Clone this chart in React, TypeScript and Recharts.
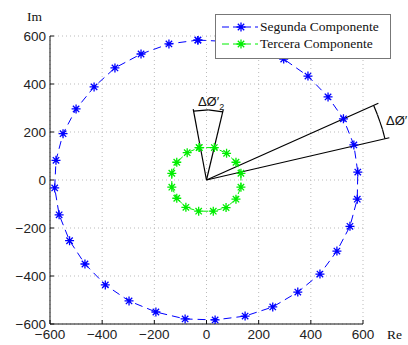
import React from 'react';
import { ScatterChart, Scatter, XAxis, YAxis, CartesianGrid, Legend, ReferenceLine, ReferenceDot } from 'recharts';

const ticks = [-600, -400, -200, 0, 200, 400, 600];

// segunda componente (blue)
const segundaRe = [-33, 82, 193, 296, 389, 466, 525, 565, 580, 578, 550, 500, 435, 350, 254, 148, 33, -82, -194, -297, -388, -466, -525, -565, -582, -577, -550, -500, -431, -351, -251, -144];
const segundaIm = [583, 577, 550, 504, 433, 346, 255, 146, 33, -80, -193, -296, -392, -467, -529, -567, -583, -579, -550, -504, -437, -350, -253, -145, -33, 82, 193, 296, 388, 467, 525, 567];

// tercera componente (green)
const terceraRe = [-28, 30, 77, 113, 132, 132, 113, 75, 26, -30, -79, -114, -133, -133, -114, -74];
const terceraIm = [135, 135, 111, 74, 28, -30, -80, -115, -130, -130, -114, -76, -30, 28, 74, 114];

// annotation wedges: ray end points and arc points
const rays = [
  { x: -51, y: 295 },
  { x: 64, y: 292 },
  { x: 659, y: 320 },
  { x: 701, y: 176 },
];
const arcTop = [{ x: 63, y: 284 }, { x: 7, y: 292 }, { x: -49, y: 287 }];
const arcRight = [{ x: 684, y: 172 }, { x: 675, y: 210 }, { x: 665, y: 242 }, { x: 655, y: 273 }, { x: 641, y: 310 }];

const blueData = [...segundaRe, segundaRe[0]].map((x, i) => ({ x, y: [...segundaIm, segundaIm[0]][i] }));
const greenData = [...terceraRe, terceraRe[0]].map((x, i) => ({ x, y: [...terceraIm, terceraIm[0]][i] }));

const BLUE = '#0000ff';
const GREEN = '#00ee00';

const asterisk = (color: string) => (props: any) => {
  const { cx, cy } = props;
  const r = 4.5;
  const d = 3.2;
  return (
    <path
      d={`M${cx - r},${cy}H${cx + r}M${cx},${cy - r}V${cy + r}M${cx - d},${cy - d}L${cx + d},${cy + d}M${cx - d},${cy + d}L${cx + d},${cy - d}`}
      stroke={color}
      strokeWidth={1.3}
      fill="none"
    />
  );
};

const fmt = (v: number) => (v < 0 ? `\u2212${-v}` : `${v}`);

const LegendBox = () => {
  const row = (color: string, label: string) => (
    <div style={{ display: 'flex', alignItems: 'center', height: 17 }}>
      <svg width={40} height={12} style={{ marginLeft: 4 }}>
        <line x1={2} y1={6} x2={38} y2={6} stroke={color} strokeDasharray="7 4" strokeWidth={1} />
        {asterisk(color)({ cx: 21, cy: 6 })}
      </svg>
      <span>{label}</span>
    </div>
  );
  return (
    <div
      style={{
        border: '1px solid #777',
        background: '#fff',
        width: 174,
        height: 40,
        boxSizing: 'content-box',
        fontFamily: '"Liberation Serif", "Times New Roman", serif',
        fontSize: 13.5,
        color: '#111',
        paddingTop: 3,
        lineHeight: '17px',
      }}
    >
      {row(BLUE, 'Segunda Componente')}
      {row(GREEN, 'Tercera Componente')}
    </div>
  );
};

const seg = (pts: { x: number; y: number }[]) =>
  pts.slice(1).map((p, i) => [pts[i], p] as [{ x: number; y: number }, { x: number; y: number }]);

export default function App() {
  const axisFont = { fontFamily: '"Liberation Sans", Arial, sans-serif', fontSize: 13.5, fill: '#222' };
  return (
    <div style={{ position: 'absolute', left: 0, top: 0, width: 408, height: 345, background: '#fff' }}>
      <ScatterChart width={408} height={345} margin={{ top: 36, right: 45, bottom: 0, left: 0 }}>
        <CartesianGrid stroke="#bbb" strokeDasharray="1 3" />
        <XAxis
          dataKey="x"
          type="number"
          domain={[-600, 600]}
          ticks={ticks}
          allowDataOverflow
          height={21}
          tickSize={-4}
          tickMargin={9}
          tickFormatter={fmt}
          tick={axisFont}
          stroke="#111"
          label={{
            content: (p: any) => (
              <text x={p.viewBox.x + p.viewBox.width + 24} y={p.viewBox.y + 15} fontFamily='"Liberation Serif", serif' fontSize={13.5} fill="#111">
                Re
              </text>
            ),
          }}
        />
        <XAxis xAxisId="top" orientation="top" type="number" domain={[-600, 600]} ticks={ticks} allowDataOverflow height={0} tick={false} tickSize={-4} stroke="#111" />
        <YAxis
          dataKey="y"
          type="number"
          domain={[-600, 600]}
          ticks={ticks}
          allowDataOverflow
          width={50}
          tickSize={-4}
          tickMargin={8}
          tickFormatter={fmt}
          tick={axisFont}
          stroke="#111"
          label={{
            content: (p: any) => (
              <text x={p.viewBox.x + 27} y={p.viewBox.y - 15} fontFamily='"Liberation Serif", serif' fontSize={13.5} fill="#111">
                Im
              </text>
            ),
          }}
        />
        <YAxis yAxisId="right" orientation="right" type="number" domain={[-600, 600]} ticks={ticks} allowDataOverflow width={0} tick={false} tickSize={-4} stroke="#111" />
        <Legend layout="horizontal" verticalAlign="middle" align="center" content={() => <LegendBox />} wrapperStyle={{ left: 215, top: 14, width: 'auto', height: 'auto' }} />
        <Scatter
          name="Segunda Componente"
          data={blueData}
          line={{ stroke: BLUE, strokeDasharray: '8 5', strokeWidth: 1 }}
          shape={asterisk(BLUE)}
          isAnimationActive={false}
        />
        <Scatter
          name="Tercera Componente"
          data={greenData}
          line={{ stroke: GREEN, strokeDasharray: '5 2', strokeWidth: 1 }}
          shape={asterisk(GREEN)}
          isAnimationActive={false}
        />
        {rays.map((r, i) => (
          <ReferenceLine key={`ray${i}`} segment={[{ x: 0, y: 0 }, r]} stroke="#000" strokeWidth={1.2} ifOverflow="visible" />
        ))}
        {[...seg(arcTop), ...seg(arcRight)].map((s, i) => (
          <ReferenceLine key={`arc${i}`} segment={s} stroke="#000" strokeWidth={1.2} ifOverflow="visible" />
        ))}
        <ReferenceDot
          x={-33}
          y={329}
          ifOverflow="visible"
          shape={(p: any) => (
            <text x={p.cx} y={p.cy + 5} fontFamily='"Liberation Sans", Arial, sans-serif' fontSize={13} fill="#111">
              ΔØ′<tspan dy={4} fontSize={9}>2</tspan>
            </text>
          )}
        />
        <ReferenceDot
          x={688}
          y={250}
          ifOverflow="visible"
          shape={(p: any) => (
            <text x={p.cx} y={p.cy + 5} fontFamily='"Liberation Sans", Arial, sans-serif' fontSize={13} fill="#111">
              ΔØ′
            </text>
          )}
        />
      </ScatterChart>
    </div>
  );
}
